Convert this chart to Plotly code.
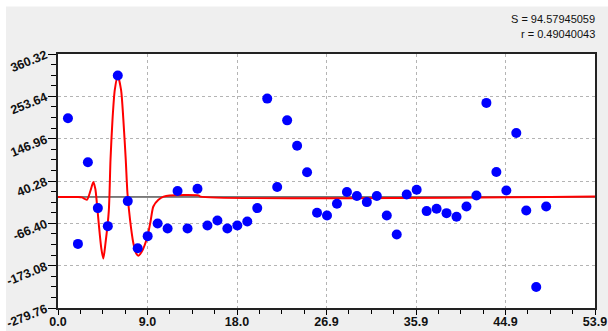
import plotly.graph_objects as go

# ---- data ----
pt_x = list(range(1, 50))
pt_y = [198.2, -118.2, 87.6, -28.0, -73.5, 306.0, -10.4, -129.0, -98.7, -66.9,
        -79.6, 14.9, -79.6, 20.7, -72.0, -59.4, -79.6, -72.0, -61.9, -28.0,
        247.9, 25.0, 193.1, 129.3, 62.4, -39.9, -46.7, -17.2, 12.4, 2.3,
        -12.9, 2.3, -46.7, -94.7, 6.3, 18.2, -35.6, -29.8, -40.7, -50.0,
        -24.0, 3.8, 237.1, 62.9, 16.4, 161.3, -34.1, -226.8, -24.0]

curve_x = [0, 2.0, 2.4, 2.9, 3.25, 3.55, 3.75, 3.9, 4.1, 4.35, 4.55, 4.75, 5.1,
           5.27, 5.47, 5.7, 6.0, 6.33, 6.56, 6.8, 6.97, 7.23, 7.56, 7.83, 8.06,
           8.4, 8.97, 9.3, 9.57, 10.08, 10.6, 11.2, 14.1, 14.3, 53.9]
curve_y = [0, 0, -1, -7, 15, 38, 20, -15, -70, -130, -155, -120, -35,
           94, 195, 270, 305, 270, 195, 94, 10, -57, -116, -141, -148,
           -138, -100, -60, -24, -7, 1, 4, 4, 1, 1]

base_x = [0, 53.9]
base_y = [0, 0]

x_ticks = [0.0, 8.9833, 17.9667, 26.95, 35.9333, 44.9167, 53.9]
x_labels = ["0.0", "9.0", "18.0", "26.9", "35.9", "44.9", "53.9"]
y_ticks = [-279.76, -173.08, -66.40, 40.28, 146.96, 253.64, 360.32]
y_labels = ["-279.76", "-173.08", "-66.40", "40.28", "146.96", "253.64", "360.32"]

x_minor = [i * 53.9 / 24 for i in range(25)]
y_minor = [-279.76 + i * 640.08 / 24 for i in range(25)]

stats = ["S = 94.57945059", "r = 0.49040043"]

fig = go.Figure()
fig.add_trace(go.Scatter(x=base_x, y=base_y, mode="lines",
                         line=dict(color="black", width=1), hoverinfo="skip"))
fig.add_trace(go.Scatter(x=curve_x, y=curve_y, mode="lines",
                         line=dict(color="#ff0000", width=2, shape="spline", smoothing=0.7)))
fig.add_trace(go.Scatter(x=pt_x, y=pt_y, mode="markers",
                         marker=dict(color="#0000ff", size=10, line=dict(width=0))))

tick_font = dict(family="Liberation Sans, Arial, sans-serif", size=12.5, color="#111", weight="bold")

fig.update_layout(
    width=608, height=331,
    margin=dict(l=58, r=13, t=54, b=23),
    paper_bgcolor="#efefef", plot_bgcolor="white",
    showlegend=False,
    xaxis=dict(range=[0, 53.9], tickmode="array", tickvals=x_ticks, ticktext=x_labels,
               ticks="outside", ticklen=5, tickcolor="black", tickfont=tick_font,
               ticklabelstandoff=-4, ticklabeloverflow="allow",
               showgrid=True, gridcolor="#b4b4b4", griddash="3px,3px", gridwidth=1,
               showline=True, linecolor="#222", linewidth=1.5, mirror=True,
               zeroline=False, automargin=False,
               minor=dict(tickmode="array", tickvals=x_minor, ticks="outside", ticklen=4,
                          tickcolor="black", showgrid=False)),
    yaxis=dict(range=[-279.76, 360.32], tickmode="array", tickvals=y_ticks, ticktext=y_labels,
               ticks="outside", ticklen=8, tickcolor="black", tickfont=tick_font, tickangle=-22,
               ticklabeloverflow="allow",
               showgrid=True, gridcolor="#b4b4b4", griddash="3px,3px", gridwidth=1,
               showline=True, linecolor="#222", linewidth=1.5, mirror=True,
               zeroline=False, automargin=False,
               minor=dict(tickmode="array", tickvals=y_minor, ticks="outside", ticklen=5,
                          tickcolor="black", showgrid=False)),
    shapes=[
        dict(type="rect", xref="paper", yref="paper",
             x0=-58 / 537, x1=(608 - 58) / 537, y0=(308 - 7) / 253.5, y1=308 / 253.5,
             fillcolor="white", line=dict(width=0), layer="above"),
        dict(type="rect", xref="paper", yref="paper",
             x0=-58 / 537, x1=(6 - 58) / 537, y0=-23 / 253.5, y1=308 / 253.5,
             fillcolor="white", line=dict(width=0), layer="above"),
    ],
)

for i, s in enumerate(stats):
    fig.add_annotation(text=s, xref="paper", yref="paper",
                       x=(597 - 58) / 537, y=(308 - 20 - 15 * i) / 253.5,
                       xanchor="right", yanchor="middle", showarrow=False,
                       font=dict(family="Liberation Sans, Arial, sans-serif",
                                 size=11, color="#111"))

fig.write_html("out.html")
